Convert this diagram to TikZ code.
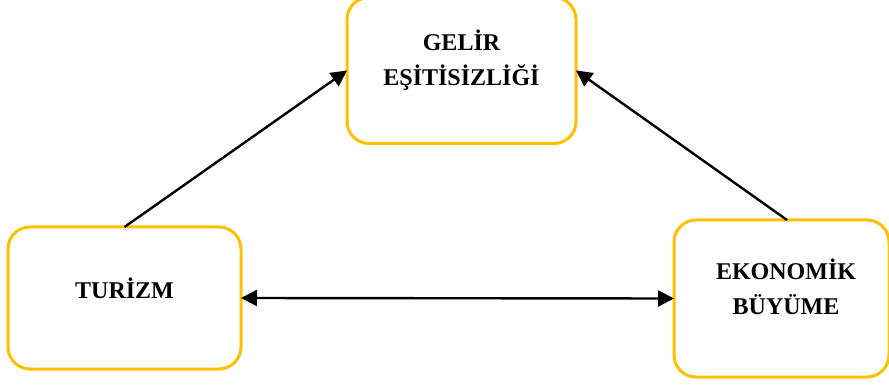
\documentclass[tikz,border=0pt]{standalone}
\usepackage{fontspec}
\setmainfont{Liberation Serif}
\usetikzlibrary{arrows.meta}
\definecolor{boxgold}{HTML}{FFC000}
\tikzset{
  box/.style={draw=boxgold, line width=3pt, rounded corners=22pt, fill=white,
    rectangle, outer sep=0pt, inner sep=0pt},
  lbl/.style={font=\fontsize{24}{35}\selectfont\bfseries, align=center, inner sep=0pt},
  conn/.style={line width=2.4pt, -{Triangle[length=16pt,width=16pt]}},
  conn2/.style={line width=2.4pt, {Triangle[length=16pt,width=16pt]}-{Triangle[length=16pt,width=16pt]}}
}
\begin{document}
\begin{tikzpicture}[x=1pt,y=-1pt]
\useasboundingbox (0,0) rectangle (889,387);
\node[box, minimum width=229pt, minimum height=146pt] (g) at (461.5,70.5) {};
\node[box, minimum width=233pt, minimum height=142pt] (t) at (124.5,298) {};
\node[box, minimum width=215pt, minimum height=157pt] (e) at (781.5,298.5) {};
\node[lbl] (gt) at (461.5,60) {GELİR\\EŞİTİSİZLİĞİ};
\node[lbl] (tt) at (124.5,288) {TURİZM};
\node[lbl] (et) at (786,287) {EKONOMİK\\BÜYÜME};
\draw[conn] (t.north) -- (g.west);
\draw[conn] ([xshift=5.5pt]e.north) -- (g.east);
\draw[conn2] (t.east) -- (e.west);
\end{tikzpicture}
\end{document}
